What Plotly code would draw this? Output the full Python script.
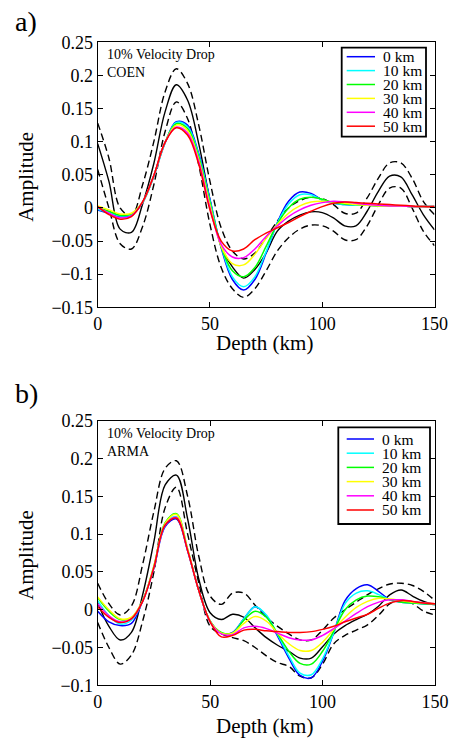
import plotly.graph_objects as go

# ---------------- data ----------------
depth = list(range(0, 151, 5))  # km

series_labels = ["0 km", "10 km", "20 km", "30 km", "40 km", "50 km"]
series_colors = ["#0000ff", "#00ffff", "#00ff00", "#ffff00", "#ff00ff", "#ff0000"]

x_tickvals = [0, 50, 100, 150]
x_ticktext = ["0", "50", "100", "150"]
a_ytickvals = [-0.15, -0.1, -0.05, 0, 0.05, 0.1, 0.15, 0.2, 0.25]
a_yticktext = ["\u22120.15", "\u22120.1", "\u22120.05", "0", "0.05", "0.1", "0.15", "0.2", "0.25"]
b_ytickvals = [-0.1, -0.05, 0, 0.05, 0.1, 0.15, 0.2, 0.25]
b_yticktext = ["\u22120.1", "\u22120.05", "0", "0.05", "0.1", "0.15", "0.2", "0.25"]

# Panel a (COEN)
a_mean = [0.097, 0.04, -0.032, -0.037, 0.006, 0.067, 0.145, 0.186, 0.163, 0.097, 0.012, -0.058, -0.089, -0.106, -0.093, -0.068,
          -0.035, -0.02, -0.011, -0.006, -0.007, -0.015, -0.027, -0.027, -0.005, 0.025, 0.048, 0.047, 0.02, -0.01, -0.033]
a_upper = [0.128, 0.075, 0.0, -0.012, 0.035, 0.1, 0.175, 0.21, 0.188, 0.125, 0.04, -0.03, -0.065, -0.077, -0.068, -0.045,
           -0.02, 0.0, 0.011, 0.016, 0.014, 0.005, -0.008, -0.008, 0.015, 0.045, 0.068, 0.068, 0.045, 0.01, -0.01]
a_lower = [0.058, 0.0, -0.054, -0.062, -0.028, 0.035, 0.115, 0.16, 0.135, 0.065, -0.025, -0.09, -0.122, -0.135, -0.122, -0.095,
           -0.065, -0.045, -0.032, -0.026, -0.027, -0.035, -0.048, -0.048, -0.027, 0.005, 0.03, 0.03, 0.0, -0.035, -0.057]
a_0km = [-0.003, -0.008, -0.013, -0.011, 0.008, 0.048, 0.098, 0.13, 0.125, 0.082, 0.013, -0.06, -0.108, -0.124, -0.108, -0.068,
         -0.022, 0.01, 0.024, 0.022, 0.012, 0.007, 0.005, 0.004, 0.004, 0.003, 0.003, 0.003, 0.002, 0.002, 0.002]
a_10km = [-0.002, -0.007, -0.012, -0.01, 0.008, 0.048, 0.098, 0.129, 0.123, 0.08, 0.011, -0.058, -0.104, -0.119, -0.104, -0.066,
          -0.023, 0.006, 0.02, 0.02, 0.012, 0.007, 0.005, 0.004, 0.004, 0.003, 0.003, 0.003, 0.002, 0.002, 0.002]
a_20km = [0.001, -0.005, -0.011, -0.009, 0.009, 0.049, 0.099, 0.127, 0.12, 0.077, 0.008, -0.058, -0.095, -0.104, -0.09, -0.058,
          -0.024, 0.0, 0.013, 0.016, 0.013, 0.008, 0.006, 0.005, 0.004, 0.003, 0.003, 0.003, 0.002, 0.002, 0.002]
a_30km = [0.003, -0.003, -0.009, -0.008, 0.009, 0.049, 0.099, 0.125, 0.117, 0.073, 0.004, -0.058, -0.084, -0.086, -0.07, -0.046,
          -0.025, -0.008, 0.003, 0.009, 0.01, 0.009, 0.007, 0.005, 0.004, 0.003, 0.003, 0.003, 0.002, 0.002, 0.002]
a_40km = [0.001, -0.008, -0.015, -0.012, 0.009, 0.049, 0.099, 0.122, 0.113, 0.07, 0.0, -0.055, -0.074, -0.075, -0.062, -0.043,
          -0.027, -0.013, -0.003, 0.004, 0.008, 0.01, 0.009, 0.007, 0.005, 0.004, 0.003, 0.003, 0.002, 0.002, 0.002]
a_50km = [0.002, -0.01, -0.017, -0.013, 0.009, 0.049, 0.099, 0.121, 0.11, 0.066, -0.003, -0.05, -0.065, -0.062, -0.048, -0.038,
          -0.03, -0.022, -0.013, -0.005, 0.002, 0.007, 0.009, 0.008, 0.007, 0.006, 0.005, 0.004, 0.003, 0.002, 0.002]

# Panel b (ARMA)
b_mean = [0.009, -0.022, -0.04, -0.03, 0.02, 0.09, 0.165, 0.178, 0.12, 0.04, -0.004, -0.013, -0.006, -0.01, -0.024, -0.037,
          -0.047, -0.055, -0.064, -0.064, -0.049, -0.032, -0.021, -0.013, -0.006, 0.005, 0.02, 0.026, 0.018, 0.011, 0.007]
b_upper = [0.035, 0.008, -0.007, 0.005, 0.06, 0.13, 0.187, 0.197, 0.15, 0.07, 0.018, 0.007, 0.022, 0.022, 0.006, -0.01,
           -0.022, -0.032, -0.04, -0.04, -0.027, -0.011, 0.0, 0.01, 0.02, 0.028, 0.034, 0.035, 0.032, 0.024, 0.012]
b_lower = [-0.017, -0.05, -0.072, -0.06, -0.015, 0.05, 0.135, 0.162, 0.1, 0.035, -0.022, -0.032, -0.037, -0.041, -0.05, -0.061,
           -0.07, -0.075, -0.088, -0.09, -0.072, -0.045, -0.034, -0.027, -0.02, -0.007, 0.008, 0.012, 0.008, -0.002, -0.007]
b_0km = [-0.002, -0.016, -0.021, -0.018, 0.012, 0.055, 0.11, 0.12, 0.078, 0.025, -0.015, -0.031, -0.03, -0.012, 0.004, -0.008,
         -0.035, -0.064, -0.087, -0.09, -0.068, -0.03, 0.012, 0.028, 0.033, 0.024, 0.013, 0.01, 0.009, 0.008, 0.007]
b_10km = [0.012, -0.008, -0.019, -0.014, 0.011, 0.056, 0.112, 0.123, 0.078, 0.025, -0.015, -0.031, -0.031, -0.012, 0.004, -0.007,
          -0.033, -0.061, -0.084, -0.086, -0.065, -0.03, 0.008, 0.022, 0.025, 0.02, 0.013, 0.01, 0.009, 0.008, 0.007]
b_20km = [0.016, -0.002, -0.013, -0.011, 0.012, 0.058, 0.115, 0.127, 0.08, 0.025, -0.015, -0.03, -0.031, -0.014, -0.002, -0.01,
          -0.032, -0.055, -0.071, -0.072, -0.055, -0.028, 0.0, 0.013, 0.018, 0.017, 0.013, 0.01, 0.009, 0.008, 0.007]
b_30km = [0.017, 0.0, -0.012, -0.01, 0.012, 0.058, 0.114, 0.126, 0.08, 0.025, -0.015, -0.031, -0.031, -0.018, -0.009, -0.015,
          -0.031, -0.045, -0.054, -0.054, -0.043, -0.026, -0.01, 0.003, 0.011, 0.015, 0.014, 0.012, 0.01, 0.009, 0.008]
b_40km = [0.008, -0.008, -0.016, -0.012, 0.011, 0.056, 0.112, 0.122, 0.078, 0.025, -0.016, -0.032, -0.033, -0.024, -0.022, -0.025,
          -0.031, -0.037, -0.04, -0.04, -0.034, -0.025, -0.015, -0.005, 0.004, 0.01, 0.013, 0.013, 0.011, 0.009, 0.008]
b_50km = [0.004, -0.01, -0.017, -0.012, 0.011, 0.056, 0.112, 0.121, 0.078, 0.025, -0.016, -0.036, -0.034, -0.027, -0.026, -0.028,
          -0.029, -0.03, -0.03, -0.029, -0.026, -0.022, -0.016, -0.011, -0.006, 0.002, 0.009, 0.012, 0.011, 0.009, 0.008]

# ---------------- layout helpers ----------------
W, H = 454, 740
FONT = "Liberation Serif"


def px(x):
    return x / W


def py(y):
    return 1 - y / H


panels = [
    dict(tag="a)", site="COEN", yrange=[-0.15, 0.25], ytv=a_ytickvals, ytt=a_yticktext,
         mean=a_mean, upper=a_upper, lower=a_lower,
         series=[a_0km, a_10km, a_20km, a_30km, a_40km, a_50km],
         left=97.7, right=434.5, top=42.3, bottom=307.3,
         tagy=21, note_y=(54.3, 72.7), title_y=343,
         leg=dict(x0=341.7, x1=426.0, y0=47.7, y1=136.7, row0=56.7, dy=13.9, lx0=346.7, lx1=375.0, tx=380.5)),
    dict(tag="b)", site="ARMA", yrange=[-0.1, 0.25], ytv=b_ytickvals, ytt=b_yticktext,
         mean=b_mean, upper=b_upper, lower=b_lower,
         series=[b_0km, b_10km, b_20km, b_30km, b_40km, b_50km],
         left=97.7, right=435.0, top=420.7, bottom=685.3,
         tagy=393, note_y=(433.3, 451.0), title_y=726,
         leg=dict(x0=338.3, x1=430.0, y0=427.3, y1=524.0, row0=439.0, dy=14.2, lx0=346.7, lx1=374.0, tx=380.0)),
]

fig = go.Figure()
shapes = []
annotations = []
layout_axes = {}

for i, p in enumerate(panels):
    sfx = "" if i == 0 else str(i + 1)
    xa, ya = "x" + sfx, "y" + sfx
    # black mean and dashed bounds
    for arr, dash in [(p["upper"], "7px,4px"), (p["lower"], "7px,4px"), (p["mean"], "solid")]:
        fig.add_trace(go.Scatter(x=depth, y=arr, mode="lines", xaxis=xa, yaxis=ya, showlegend=False,
                                 line=dict(color="black", width=1.4, dash=dash, shape="spline", smoothing=1.0),
                                 hoverinfo="skip"))
    for arr, col, lab in zip(p["series"], series_colors, series_labels):
        fig.add_trace(go.Scatter(x=depth, y=arr, mode="lines", xaxis=xa, yaxis=ya, name=lab, showlegend=False,
                                 line=dict(color=col, width=1.5, shape="spline", smoothing=1.0)))

    axis_common = dict(showgrid=False, zeroline=False, showline=True, linecolor="black", linewidth=1,
                       mirror="allticks", ticks="inside", ticklen=5, tickcolor="black", tickwidth=1,
                       tickfont=dict(family=FONT, size=18, color="black"), automargin=False)
    layout_axes["xaxis" + sfx] = dict(axis_common, domain=[px(p["left"]), px(p["right"])], range=[0, 150],
                                      tickvals=x_tickvals, ticktext=x_ticktext, anchor=ya)
    layout_axes["yaxis" + sfx] = dict(axis_common, domain=[py(p["bottom"]), py(p["top"])], range=p["yrange"],
                                      tickvals=p["ytv"], ticktext=p["ytt"], anchor=xa)

    # panel tag
    annotations.append(dict(text=p["tag"], xref="paper", yref="paper", x=px(13), y=py(p["tagy"]),
                            xanchor="left", yanchor="middle", showarrow=False,
                            font=dict(family=FONT, size=28, color="black")))
    # notes
    for txt, yy in zip(["10% Velocity Drop", p["site"]], p["note_y"]):
        annotations.append(dict(text=txt, xref="paper", yref="paper", x=px(104.5), y=py(yy),
                                xanchor="left", yanchor="middle", showarrow=False,
                                font=dict(family=FONT, size=14, color="black")))
    # axis titles
    annotations.append(dict(text="Depth (km)", xref="paper", yref="paper", x=px((p["left"] + p["right"]) / 2 - 2),
                            y=py(p["title_y"]), xanchor="center", yanchor="middle", showarrow=False,
                            font=dict(family=FONT, size=21, color="black")))
    annotations.append(dict(text="Amplitude", xref="paper", yref="paper", x=px(26),
                            y=py((p["top"] + p["bottom"]) / 2 + 2), xanchor="center", yanchor="middle",
                            showarrow=False, textangle=-90, font=dict(family=FONT, size=21, color="black")))
    # legend box (drawn manually for exact MATLAB-like spacing)
    lg = p["leg"]
    shapes.append(dict(type="rect", xref="paper", yref="paper", x0=px(lg["x0"]), x1=px(lg["x1"]),
                       y0=py(lg["y1"]), y1=py(lg["y0"]), line=dict(color="black", width=1.8),
                       fillcolor="white", layer="above"))
    for k, (col, lab) in enumerate(zip(series_colors, series_labels)):
        yy = lg["row0"] + k * lg["dy"]
        shapes.append(dict(type="line", xref="paper", yref="paper", x0=px(lg["lx0"]), x1=px(lg["lx1"]),
                           y0=py(yy), y1=py(yy), line=dict(color=col, width=1.5), layer="above"))
        annotations.append(dict(text=lab, xref="paper", yref="paper", x=px(lg["tx"]), y=py(yy),
                                xanchor="left", yanchor="middle", showarrow=False,
                                font=dict(family=FONT, size=15.5, color="black")))

fig.update_layout(
    width=W, height=H, margin=dict(l=0, r=0, t=0, b=0),
    paper_bgcolor="white", plot_bgcolor="white", showlegend=False,
    shapes=shapes, annotations=annotations, **layout_axes,
)

fig.write_html("out.html", config={"displayModeBar": False, "staticPlot": True},
               post_script="document.body.style.margin='0';document.body.style.overflow='hidden';")
